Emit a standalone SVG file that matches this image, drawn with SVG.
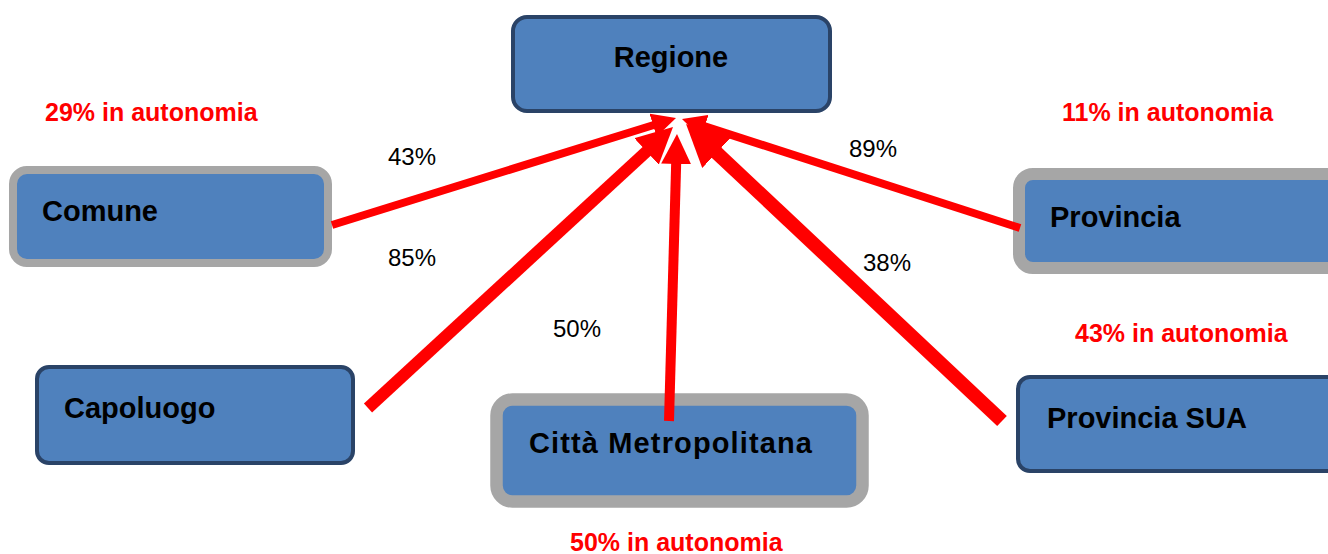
<svg xmlns="http://www.w3.org/2000/svg" width="1328" height="554" viewBox="0 0 1328 554">
<style>
.bg{fill:#ffffff}
.dark{fill:#4F81BD;stroke:#2A4367;stroke-width:4}
.grayb{fill:#4F81BD;stroke:#A6A6A6}
.lbl{font-family:"Liberation Sans",Arial,sans-serif;font-weight:bold;font-size:29px;fill:#000}
.auto{font-family:"Liberation Sans",Arial,sans-serif;font-weight:bold;font-size:25px;fill:#FF0000}
.pct{font-family:"Liberation Sans",Arial,sans-serif;font-size:24px;fill:#000}
.arr{stroke:#FF0000;fill:none;stroke-linecap:butt;marker-end:url(#head)}
</style>
<defs>
<marker id="head" viewBox="0 0 3 3" markerWidth="3" markerHeight="3" refX="0.2" refY="1.5" orient="auto" markerUnits="strokeWidth">
<path d="M0,0 L3,1.5 L0,3 z" fill="#FF0000"/>
</marker>
</defs>
<rect class="bg" x="0" y="0" width="1328" height="554"/>

<g id="regione">
<rect class="dark" x="513" y="17" width="317" height="94" rx="14"/>
<text class="lbl" x="671" y="67" text-anchor="middle">Regione</text>
</g>
<g id="comune">
<rect class="grayb" x="13" y="170" width="315" height="93" rx="14" stroke-width="8"/>
<text class="lbl" x="42" y="221">Comune</text>
</g>
<g id="provincia">
<rect class="grayb" x="1019" y="174" width="330" height="94" rx="14" stroke-width="12"/>
<text class="lbl" x="1050" y="227">Provincia</text>
</g>
<g id="capoluogo">
<rect class="dark" x="37" y="367" width="316" height="96" rx="12"/>
<text class="lbl" x="64" y="418">Capoluogo</text>
</g>
<g id="provincia-sua">
<rect class="dark" x="1018" y="377" width="330" height="94" rx="12"/>
<text class="lbl" x="1047" y="428">Provincia SUA</text>
</g>
<g id="citta-metropolitana">
<rect class="grayb" x="496.5" y="399.5" width="366" height="102" rx="16" stroke-width="12.5"/>
<text class="lbl" x="529" y="453" textLength="283" lengthAdjust="spacing">Città Metropolitana</text>
</g>

<g id="connectors">
<line class="arr" x1="332" y1="225" x2="654.6" y2="124.7" stroke-width="8"/>
<line class="arr" x1="368" y1="408" x2="648.3" y2="149.8" stroke-width="12"/>
<line class="arr" x1="669" y1="421" x2="676.2" y2="162" stroke-width="10"/>
<line class="arr" x1="1020" y1="228" x2="703.3" y2="125.9" stroke-width="8"/>
<line class="arr" x1="1002" y1="421" x2="714.6" y2="150.8" stroke-width="14"/>
</g>

<g id="labels">
<text class="pct" x="388" y="165">43%</text>
<text class="pct" x="388" y="266">85%</text>
<text class="pct" x="553" y="337">50%</text>
<text class="pct" x="849" y="157">89%</text>
<text class="pct" x="863" y="271">38%</text>
<text class="auto" x="45" y="121">29% in autonomia</text>
<text class="auto" x="1062" y="121">11% in autonomia</text>
<text class="auto" x="1075" y="342">43% in autonomia</text>
<text class="auto" x="570" y="551">50% in autonomia</text>
</g>
</svg>
